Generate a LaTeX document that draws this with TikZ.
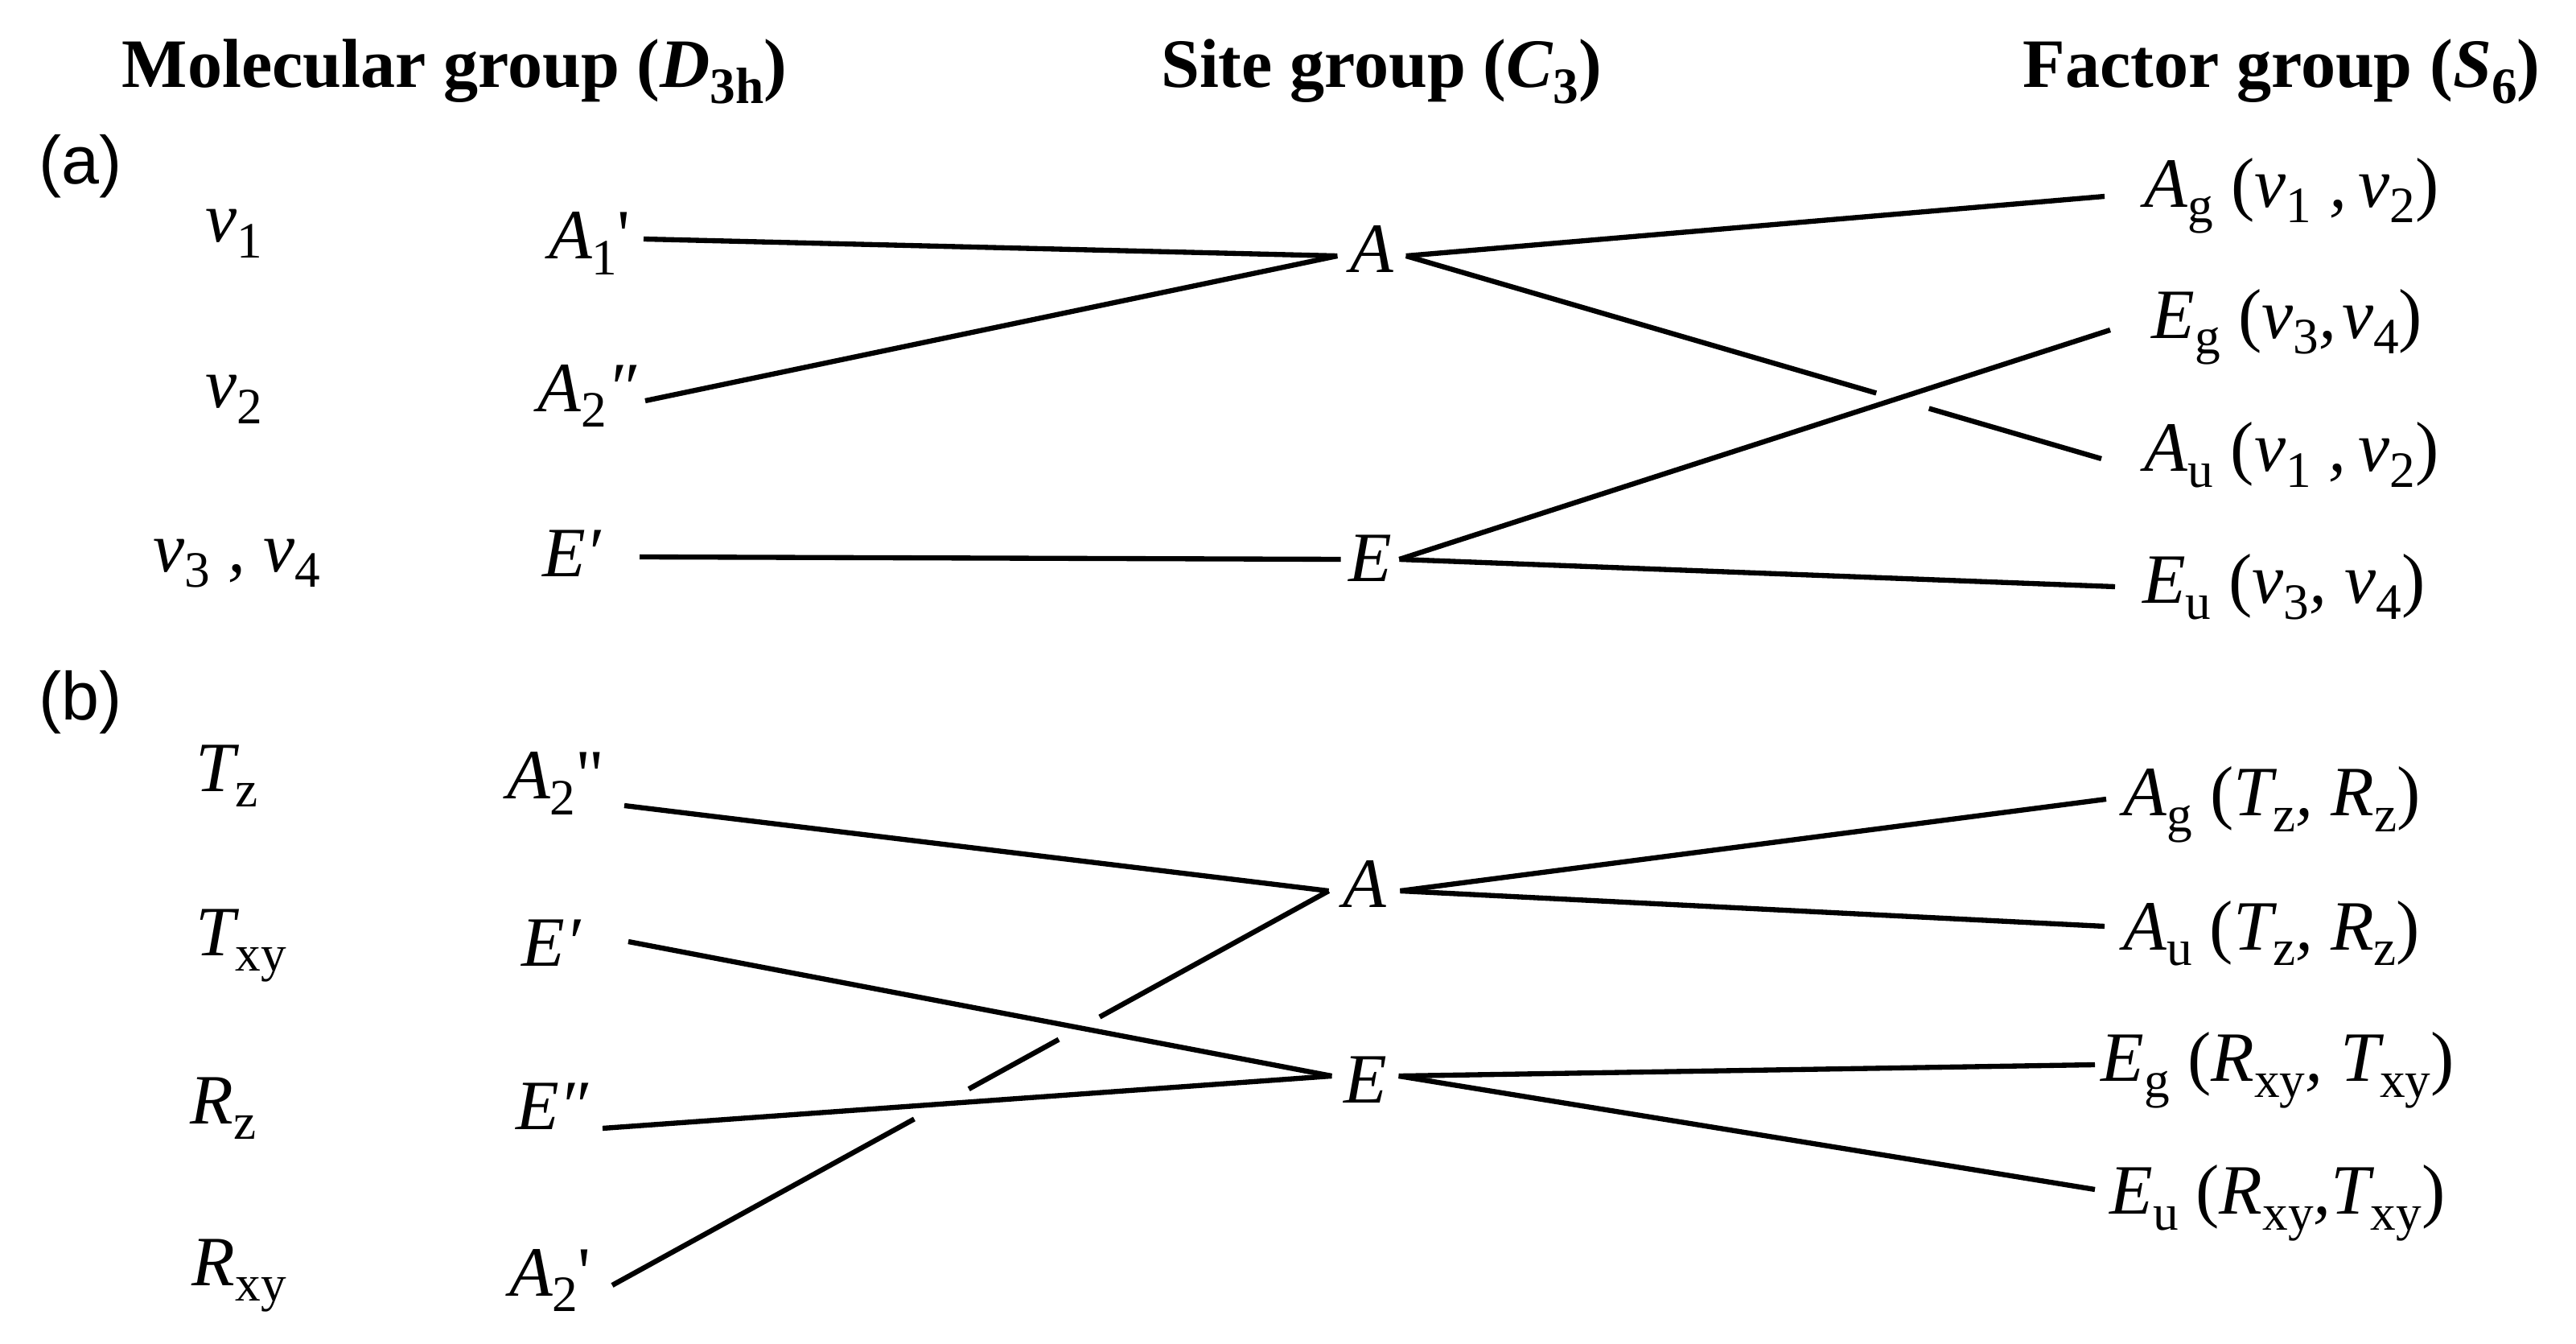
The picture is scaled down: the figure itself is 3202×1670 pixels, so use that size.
\documentclass[tikz,border=0pt]{standalone}
\usepackage{fontspec}
\newfontfamily\tnr{Liberation Serif}
\newfontfamily\arl{Liberation Sans}
\usetikzlibrary{calc,intersections}
\newcommand\sbs[1]{\raisebox{-5.5pt}{\fontsize{18}{18}\selectfont\upshape #1}}
\newcommand\nus[1]{ν\sbs{#1}}
\newcommand\lp{\textup{(}}
\newcommand\rp{\textup{)}}
\newcommand\sq{\textup{'}}
\newcommand\dq{\textup{"}}
\newcommand\lblfont{\tnr\itshape\fontsize{25}{30}\selectfont}
\newcommand\hdrfont{\tnr\bfseries\fontsize{24.5}{29}\selectfont}
\newcommand\tagfont{\arl\fontsize{24}{29}\selectfont}
\begin{document}
\begin{tikzpicture}[x=0.01cm,y=-0.01cm,
  conn/.style={line width=1.8pt},
  hdr/.style={font=\hdrfont, inner sep=0pt, anchor=base},
  tagn/.style={font=\tagfont, inner sep=0pt},
  lab/.style={font=\lblfont, inner sep=0pt},
  col1/.style={lab, anchor=base west},
  llab/.style={lab, anchor=east, text depth=0pt},
  rlab/.style={lab, anchor=west, text depth=0pt},
  mid/.style={lab, anchor=center, text depth=0pt}]
\fill[white] (0,0) rectangle (3202,1670);

% headers
\node[hdr] (h1) at (565,109) {Molecular group (\textit{D}\sbs{3h})};
\node[hdr] (h2) at (1717,109) {Site group (\textit{C}\sbs{3})};
\node[hdr] (h3) at (2836,109) {Factor group (\textit{S}\sbs{6})};

% tags
\node[tagn] (ta) at (100,207) {(a)};
\node[tagn] (tb) at (100,873) {(b)};

% ---------- (a) ----------
\node[col1] (nu1) at (255,301) {\nus{1}};
\node[col1] (nu2) at (255,507) {\nus{2}};
\node[col1] (nu34) at (190,710) {\nus{3} , \nus{4}};

\node[llab, inner xsep=4.5pt, text height=14.2pt] (aA1) at (800,297) {A\sbs{1}\sq};
\node[llab, inner xsep=3pt, text height=7.4pt] (aA2) at (802,498) {A\sbs{2}″};
\node[llab, inner xsep=13.4pt, text height=14.2pt] (aE) at (795,692) {E′};

\node[mid, inner xsep=4.3pt, text height=11.4pt] (sA) at (1705,318) {A};
\node[mid, inner xsep=2.5pt, text height=15.4pt] (sE) at (1703,695) {E};

\node[rlab, inner xsep=14pt, text height=7.4pt] (ag) at (2616,244) {A\sbs{g} \lp\nus{1} ,\,\nus{2}\rp};
\node[rlab, inner xsep=14.5pt, text height=5.7pt] (eg) at (2623,410) {E\sbs{g} \lp\nus{3},\kern2pt\nus{4}\rp};
\node[rlab, inner xsep=15pt, text height=9.1pt] (au) at (2612,570) {A\sbs{u} \lp\nus{1} ,\,\nus{2}\rp};
\node[rlab, inner xsep=9.5pt, text height=11.9pt] (eu) at (2629,729) {E\sbs{u} \lp\nus{3}, \nus{4}\rp};

\draw[conn] (aA1.east) -- (sA.west);
\draw[conn] (aA2.east) -- (sA.west);
\draw[conn] (aE.east) -- (sE.west);
\draw[conn] (sA.east) -- (ag.west);
\draw[conn] (sE.east) -- (eg.west);
\draw[conn] (sE.east) -- (eu.west);
\path[name path=pAu] (sA.east) -- (au.west);
\path[name path=pEg] (sE.east) -- (eg.west);
\path[name intersections={of=pAu and pEg, by=xa}];
\draw[conn] (sA.east) -- ($(xa)!7.4pt!(sA.east)$);
\draw[conn] ($(xa)!12pt!(au.west)$) -- (au.west);

% ---------- (b) ----------
\node[col1] (tz) at (243,983) {T\sbs{z}};
\node[col1] (txy) at (243,1187) {T\sbs{xy}};
\node[col1] (rz) at (236,1396) {R\sbs{z}};
\node[col1] (rxy) at (238,1597) {R\sbs{xy}};

\node[llab, inner xsep=6.8pt, text height=0pt, text depth=4.6pt] (bA2pp) at (776,1001) {A\sbs{2}\dq};
\node[llab, inner xsep=16.8pt, text height=17.1pt] (bEp) at (781,1170) {E′};
\node[llab, inner xsep=4.8pt, text height=0.6pt] (bEpp) at (749,1402) {E″};
\node[llab, inner xsep=7.4pt, text height=7.4pt] (bA2p) at (761,1597) {A\sbs{2}\sq};

\node[mid, inner xsep=4.8pt, text height=11.4pt] (tA) at (1696,1107) {A};
\node[mid, inner xsep=4pt, text height=19.3pt] (tE) at (1697,1337) {E};

\node[rlab, inner xsep=6pt, text height=11.9pt] (bag) at (2618,993) {A\sbs{g} \lp T\sbs{z}, R\sbs{z}\rp};
\node[rlab, inner xsep=6.5pt, text height=16.5pt] (bau) at (2616,1151) {A\sbs{u} \lp T\sbs{z}, R\sbs{z}\rp};
\node[rlab, inner xsep=2pt, text height=11.9pt] (beg) at (2604,1323) {E\sbs{g} \lp R\sbs{xy}, T\sbs{xy}\rp};
\node[rlab, inner xsep=5pt, text height=17.6pt] (beu) at (2604,1478) {E\sbs{u} \lp R\sbs{xy},T\sbs{xy}\rp};

\draw[conn] (bA2pp.east) -- (tA.west);
\draw[conn] (bEp.east) -- (tE.west);
\draw[conn] (bEpp.east) -- (tE.west);
\path[name path=pA2p] (bA2p.east) -- (tA.west);
\path[name path=pEp] (bEp.east) -- (tE.west);
\path[name path=pEpp] (bEpp.east) -- (tE.west);
\path[name intersections={of=pA2p and pEp, by=xb}];
\path[name intersections={of=pA2p and pEpp, by=xc}];
\draw[conn] (bA2p.east) -- ($(xc)!11pt!(bA2p.east)$);
\draw[conn] ($(xc)!11pt!(tA.west)$) -- ($(xb)!8.5pt!(bA2p.east)$);
\draw[conn] ($(xb)!8pt!(tA.west)$) -- (tA.west);
\draw[conn] (tA.east) -- (bag.west);
\draw[conn] (tA.east) -- (bau.west);
\draw[conn] (tE.east) -- (beg.west);
\draw[conn] (tE.east) -- (beu.west);
\end{tikzpicture}
\end{document}
